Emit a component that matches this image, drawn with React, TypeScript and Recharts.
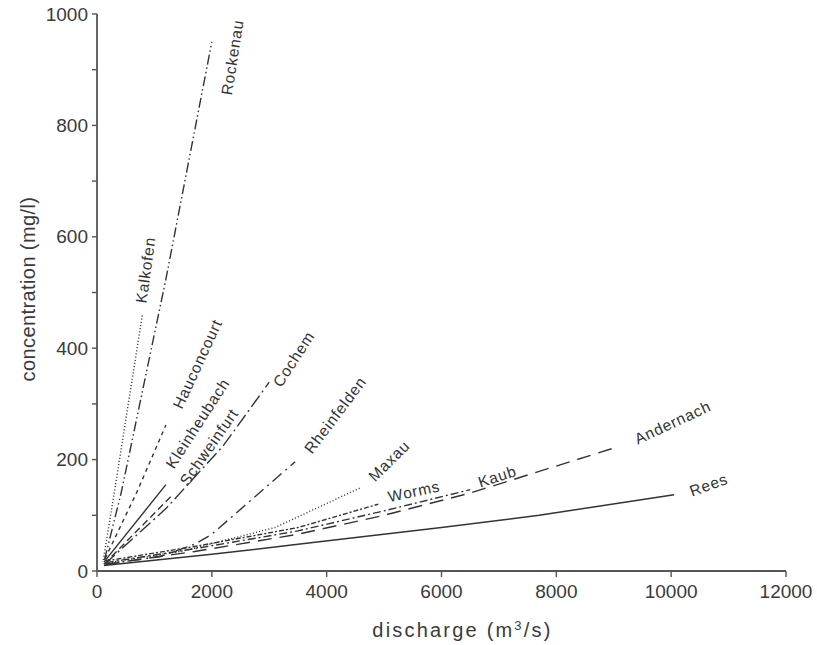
import React from 'react';
import { LineChart, Line, XAxis, YAxis, Label, LabelList } from 'recharts';

// ---- data (discharge q in m³/s, concentration c in mg/l) ----
const xTicks = [0, 2000, 4000, 6000, 8000, 10000, 12000];
const yTicks = [0, 100, 200, 300, 400, 500, 600, 700, 800, 900, 1000];

const rockenau = [{ q: 130, c: 20 }, { q: 420, c: 140 }, { q: 1200, c: 524 }, { q: 2000, c: 950 }];
const kalkofen = [{ q: 110, c: 20 }, { q: 300, c: 140 }, { q: 790, c: 460 }];
const hauconcourt = [{ q: 140, c: 22 }, { q: 700, c: 143 }, { q: 1200, c: 262 }];
const kleinheubach = [{ q: 120, c: 16 }, { q: 1200, c: 155 }];
const schweinfurt = [{ q: 120, c: 12 }, { q: 1300, c: 135 }];
const cochem = [{ q: 130, c: 12 }, { q: 1200, c: 112 }, { q: 2200, c: 225 }, { q: 3000, c: 339 }];
const rheinfelden = [{ q: 150, c: 12 }, { q: 1100, c: 26 }, { q: 1700, c: 48 }, { q: 2000, c: 66 }, { q: 3450, c: 196 }];
const maxau = [{ q: 150, c: 14 }, { q: 1500, c: 36 }, { q: 3100, c: 78 }, { q: 4600, c: 150 }];
const worms = [{ q: 150, c: 18 }, { q: 1700, c: 44 }, { q: 3500, c: 78 }, { q: 4900, c: 120 }];
const kaub = [{ q: 150, c: 15 }, { q: 1700, c: 40 }, { q: 3500, c: 72 }, { q: 5000, c: 108 }, { q: 6500, c: 146 }];
const andernach = [{ q: 150, c: 12 }, { q: 1700, c: 35 }, { q: 3500, c: 66 }, { q: 5000, c: 100 }, { q: 6500, c: 140 }, { q: 9070, c: 223 }];
const rees = [{ q: 120, c: 10 }, { q: 2000, c: 30 }, { q: 3500, c: 48 }, { q: 6000, c: 78 }, { q: 7700, c: 100 }, { q: 10050, c: 137 }];

// ---- styling ----
const FONT = '"Liberation Sans", Arial, Helvetica, sans-serif';
const INK = '#333';

const series = [
  { name: 'Rockenau', data: rockenau, dash: '10 3 1.5 3 1.5 3', width: 1.4, lab: { dx: 20, dy: 54, angle: -81 } },
  { name: 'Kalkofen', data: kalkofen, dash: '1 2.2', width: 1.5, lab: { dx: 4, dy: -11, angle: -82 } },
  { name: 'Hauconcourt', data: hauconcourt, dash: '4 4', width: 1.4, lab: { dx: 16, dy: -15, angle: -65 } },
  { name: 'Kleinheubach', data: kleinheubach, dash: undefined, width: 1.4, lab: { dx: 8, dy: -15, angle: -57 } },
  { name: 'Schweinfurt', data: schweinfurt, dash: '7 4', width: 1.4, lab: { dx: 16, dy: -9, angle: -55 } },
  { name: 'Cochem', data: cochem, dash: '14 4 2 4', width: 1.4, lab: { dx: 12, dy: 6, angle: -57 } },
  { name: 'Rheinfelden', data: rheinfelden, dash: '12 5 2 5', width: 1.4, lab: { dx: 17, dy: -7, angle: -53 } },
  { name: 'Maxau', data: maxau, dash: '1 2.2', width: 1.5, lab: { dx: 14, dy: -5, angle: -45 } },
  { name: 'Worms', data: worms, dash: '5 2 2 2', width: 1.4, lab: { dx: 11, dy: -2, angle: -12 } },
  { name: 'Kaub', data: kaub, dash: '8 3 2 3', width: 1.4, lab: { dx: 10, dy: -2, angle: -18 } },
  { name: 'Andernach', data: andernach, dash: '14 8', width: 1.4, lab: { dx: 20, dy: -2, angle: -25 } },
  { name: 'Rees', data: rees, dash: undefined, width: 1.5, lab: { dx: 18, dy: 2, angle: -20 } },
];

const makeLabel = (name: string, last: number, cfg: { dx: number; dy: number; angle: number }) => (p: any) => {
  if (p.index !== last) return null;
  const vx = p.viewBox && p.viewBox.x != null ? p.viewBox.x : p.x;
  const vy = p.viewBox && p.viewBox.y != null ? p.viewBox.y : p.y;
  const x = vx + cfg.dx;
  const y = vy + cfg.dy;
  return (
    <text
      x={x}
      y={y}
      transform={`rotate(${cfg.angle} ${x} ${y})`}
      fontSize={15.5}
      letterSpacing={0.8}
      fill={INK}
      fontFamily={FONT}
    >
      {name}
    </text>
  );
};

const YTick = (props: any) => {
  const { x, y, payload } = props;
  if (payload.value % 200 !== 0) return <g />;
  return (
    <text x={x} y={y} dy="0.35em" textAnchor="end" fontSize={19} fill="#3a3a3a" fontFamily={FONT}>
      {payload.value}
    </text>
  );
};

const XTitle = (p: any) => {
  const vb = p.viewBox;
  return (
    <text
      x={vb.x + vb.width / 2 + 21}
      y={vb.y + 66}
      textAnchor="middle"
      fontSize={20}
      letterSpacing={2.2}
      fill="#3a3a3a"
      fontFamily={FONT}
    >
      discharge (m<tspan fontSize={13} dy={-7}>3</tspan>
      <tspan dy={7}>/s)</tspan>
    </text>
  );
};

const YTitle = () => {
  const cy = 289;
  return (
    <text
      x={28}
      y={cy}
      transform={`rotate(-90 28 ${cy})`}
      textAnchor="middle"
      dominantBaseline="central"
      fontSize={20}
      letterSpacing={0.4}
      fill="#3a3a3a"
      fontFamily={FONT}
    >
      concentration (mg/l)
    </text>
  );
};

export default function App() {
  return (
    <div style={{ position: 'absolute', left: 0, top: 0, width: 817, height: 645, background: '#fff', fontFamily: FONT }}>
      <LineChart width={817} height={645} margin={{ top: 14, right: 31, left: 0, bottom: 0 }}>
        <XAxis
          dataKey="q"
          type="number"
          domain={[0, 12000]}
          ticks={xTicks}
          height={74}
          tickSize={6}
          tickMargin={8}
          axisLine={{ stroke: '#555', strokeWidth: 1.8 }}
          tickLine={{ stroke: '#555', strokeWidth: 1.4 }}
          tick={{ fontSize: 19, fill: '#3a3a3a', fontFamily: FONT }}
          interval={0}
        >
          <Label content={XTitle} />
        </XAxis>
        <XAxis
          xAxisId="top"
          orientation="top"
          dataKey="q"
          type="number"
          domain={[0, 12000]}
          height={0}
          tick={false}
          tickLine={false}
          axisLine={{ stroke: '#555', strokeWidth: 1.8 }}
        />
        <YAxis
          type="number"
          domain={[0, 1000]}
          ticks={yTicks}
          width={97}
          tickSize={5}
          tickMargin={4}
          interval={0}
          axisLine={{ stroke: '#555', strokeWidth: 1.8 }}
          tickLine={{ stroke: '#555', strokeWidth: 1.4 }}
          tick={<YTick />}
        >
          <Label content={YTitle} />
        </YAxis>
        <YAxis
          yAxisId="right"
          orientation="right"
          type="number"
          domain={[0, 1000]}
          width={0}
          tick={false}
          tickLine={false}
          axisLine={{ stroke: '#555', strokeWidth: 1.8 }}
        />
        {series.map((s) => (
          <Line
            key={s.name}
            data={s.data}
            dataKey="c"
            type="linear"
            stroke={INK}
            strokeWidth={s.width}
            strokeDasharray={s.dash}
            dot={false}
            activeDot={false}
            isAnimationActive={false}
          >
            <LabelList dataKey="c" content={makeLabel(s.name, s.data.length - 1, s.lab)} />
          </Line>
        ))}
      </LineChart>
    </div>
  );
}
